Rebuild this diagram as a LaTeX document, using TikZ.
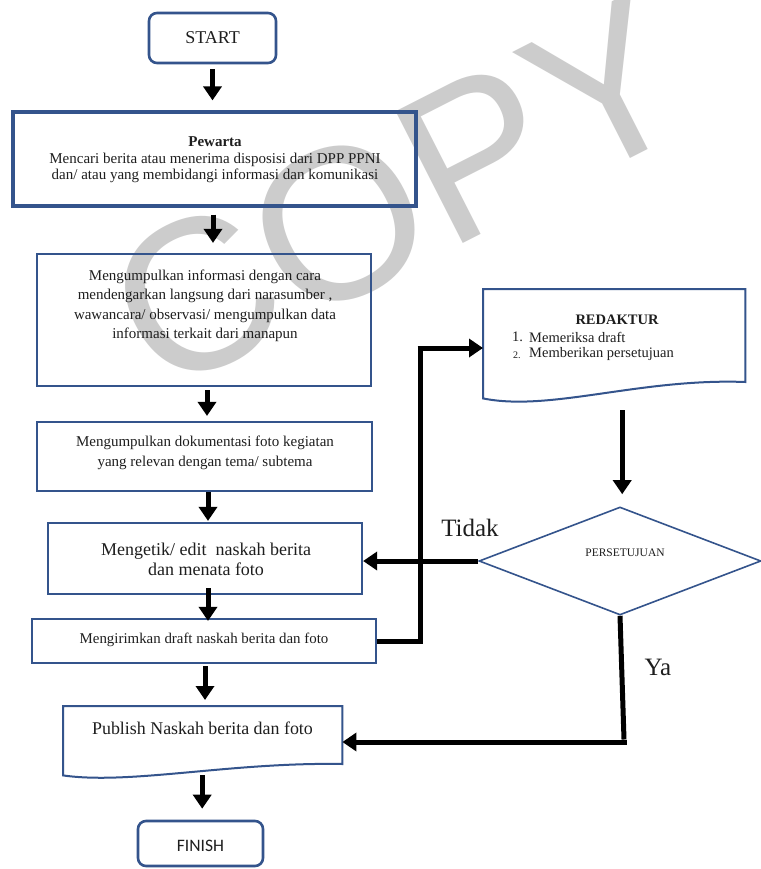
\documentclass[tikz,border=0pt]{standalone}
\usepackage{fontspec}
\setmainfont{Liberation Serif}
\newfontfamily\calibrifont{Carlito}
\newfontfamily\wmfont{Liberation Sans}
\usetikzlibrary{arrows.meta,shapes.geometric,calc}
\definecolor{boxblue}{RGB}{52,84,140}
\definecolor{ink}{RGB}{30,30,30}
\definecolor{wmgray}{RGB}{204,204,204}
\newcommand{\fsz}[2]{\fontsize{#1}{#2}\selectfont}

\begin{document}
\begin{tikzpicture}[x=1pt,y=-1pt,
  box/.style={draw=boxblue, line width=2.2pt, rectangle, inner sep=0pt},
  term/.style={box, rounded corners=8pt, line width=2.6pt},
  frame/.style={rectangle, inner sep=0pt},
  outline/.style={draw=boxblue, line width=2pt, line join=miter},
  flow/.style={line width=5pt, draw=black, -{Triangle[width=18pt,length=14pt]}},
  link/.style={line width=5pt, draw=black},
  txt/.style={text=ink, align=center, inner sep=0pt}
]
\useasboundingbox (0,0) rectangle (760,869);
\fill[white] (0,0) rectangle (760,869);

% watermark
\node[rotate=27, anchor=base west, text=wmgray, inner sep=0pt, font=\wmfont\fsz{215}{215}] (wm) at (160,398) {COPY};

% left column
\node[term, minimum width=127, minimum height=50] (start) at (212.5,38) {};
\node[txt, font=\fsz{18}{20}] (starttxt) at (212.5,38) {START};

\node[box, line width=3.2pt, minimum width=403, minimum height=94] (pew) at (214.5,159) {};
\node[txt, font=\fsz{15}{16.5}] (pewtxt) at (215,160)
  {\textbf{Pewarta}\\Mencari berita atau menerima disposisi dari DPP PPNI\\dan/ atau yang membidangi informasi dan komunikasi};

\node[box, minimum width=334, minimum height=132] (info) at (204,320) {};
\node[txt, font=\fsz{15}{19.5}] (infotxt) at (205,306)
  {Mengumpulkan informasi dengan cara\\mendengarkan langsung dari narasumber ,\\wawancara/ observasi/ mengumpulkan data\\informasi terkait dari manapun};

\node[box, minimum width=335, minimum height=69] (foto) at (204.5,456.5) {};
\node[txt, font=\fsz{15}{20}] (fototxt) at (205,453)
  {Mengumpulkan dokumentasi foto kegiatan\\yang relevan dengan tema/ subtema};

\node[box, minimum width=314, minimum height=71] (ketik) at (205,558.5) {};
\node[txt, font=\fsz{18}{20}] (ketiktxt) at (206,559)
  {Mengetik/ edit \ naskah berita\\dan menata foto};

\node[box, minimum width=344, minimum height=44] (kirim) at (204,641) {};
\node[txt, font=\fsz{14.9}{16}] (kirimtxt) at (204,640) {Mengirimkan draft naskah berita dan foto};

% document shape: Publish
\node[frame, minimum width=279, minimum height=69, anchor=north west] (pub) at (63,706) {};
\draw[outline] (pub.north west) -- (pub.north east) -- ($(pub.north east)+(0,58)$)
  .. controls (230,762) and (130,785) .. (pub.south west) -- cycle;
\node[txt, font=\fsz{17.9}{20}] (pubtxt) at (202.5,728) {Publish Naskah berita dan foto};

\node[term, minimum width=125, minimum height=45] (finish) at (200.5,843.5) {};
\node[txt, font=\calibrifont\fsz{17.5}{20}] (finishtxt) at (200.5,846) {FINISH};

% right column: document shape REDAKTUR
\node[frame, minimum width=262, minimum height=109, anchor=north west] (redak) at (483,289) {};
\draw[outline] (redak.north west) -- (redak.north east) -- ($(redak.north east)+(0,93)$)
  .. controls (640,378) and (550,412) .. (redak.south west) -- cycle;
\node[txt, font=\fsz{14.5}{16}\bfseries] (redaktitle) at (617,320) {REDAKTUR};
\node[txt, anchor=west, font=\fsz{14.5}{16}] (item1) at (512,337) {1.};
\node[txt, anchor=west, font=\fsz{14.5}{16}] (item1txt) at (529,337) {Memeriksa draft};
\node[txt, anchor=west, font=\fsz{10}{12}] (item2) at (513,355) {2.};
\node[txt, anchor=west, font=\fsz{14.5}{16}] (item2txt) at (529,354) {Memberikan persetujuan};

\node[diamond, draw=boxblue, line width=1.6pt, minimum width=282, minimum height=108, inner sep=0pt] (dia) at (620,561) {};
\node[txt, font=\fsz{11.5}{12}] (diatxt) at (625,553) {PERSETUJUAN};

% labels
\node[txt, font=\fsz{25}{26}] (tidak) at (470,528) {Tidak};
\node[txt, font=\fsz{25}{26}] (ya) at (658,667) {Ya};

% main flow
\draw[flow, shorten <=5pt, shorten >=10pt] (start.south) -- (start.south |- pew.north);
\draw[flow, shorten <=7pt, shorten >=10pt] ([xshift=-1.5pt]pew.south) -- ([xshift=-1.5pt]pew.south |- info.north);
\draw[flow, shorten <=3pt, shorten >=5pt] ([xshift=3pt]info.south) -- ([xshift=3pt]info.south |- foto.north);
\draw[flow, shorten <=0pt, shorten >=1pt] ([xshift=3.5pt]foto.south) -- ([xshift=3.5pt]foto.south |- ketik.north);
\draw[flow, shorten <=-7pt, shorten >=-3pt] ([xshift=3pt]ketik.south) -- ([xshift=3pt]ketik.south |- kirim.north);
\draw[flow, shorten <=2pt, shorten >=6pt] ([xshift=1pt]kirim.south) -- ([xshift=1pt]kirim.south |- pub.north);
\draw[flow, shorten <=0pt, shorten >=11pt] ([xshift=-0.5pt]pub.south) -- ([xshift=-0.5pt]pub.south |- finish.north);

% review loop
\coordinate (loopA) at (420,641);
\coordinate (loopB) at (420,348);
\draw[link] (kirim.east) -- (loopA) -- ([yshift=-2.5pt]loopB);
\draw[flow] ([xshift=-2.5pt]loopB) -- (loopB -| redak.west);

\draw[flow, shorten <=12pt, shorten >=12pt] ([xshift=8pt]redak.south) -- ([xshift=8pt]redak.south |- dia.north);

\draw[flow] (dia.west) -- (dia.west -| ketik.east);

\coordinate (yaCorner) at (624,742);
\draw[link] (dia.south) -- ([yshift=2.5pt]yaCorner);
\draw[flow] ([xshift=2.5pt]yaCorner) -- (yaCorner -| pub.east);
\end{tikzpicture}
\end{document}
